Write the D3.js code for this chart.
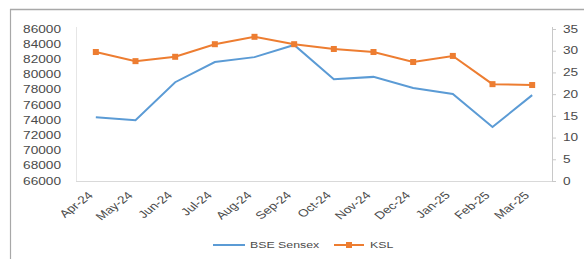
<!DOCTYPE html>
<html><head><meta charset="utf-8">
<script src="https://cdn.jsdelivr.net/npm/d3@7"></script>
<style>body{margin:0;background:#fff}svg{display:block}text{font-family:"Liberation Sans",Arial,sans-serif;fill:#4a4a4a}</style>
</head><body>
<script>
const months = ["Apr-24","May-24","Jun-24","Jul-24","Aug-24","Sep-24","Oct-24","Nov-24","Dec-24","Jan-25","Feb-25","Mar-25"];
const bseSensex = [74400,74000,79000,81650,82300,83900,79400,79700,78250,77450,73100,77300];
const ksl = [29.7,27.6,28.6,31.5,33.2,31.5,30.4,29.7,27.4,28.8,22.3,22.1];
const leftTicks = [66000,68000,70000,72000,74000,76000,78000,80000,82000,84000,86000];
const rightTicks = [0,5,10,15,20,25,30,35];
const seriesNames = ["BSE Sensex","KSL"];

const W=584,H=259, SX=1.3, FS=10.5;
const svg=d3.select("body").append("svg").attr("width",W).attr("height",H);

// outer frame
svg.append("line").attr("x1",10).attr("x2",W).attr("y1",9.5).attr("y2",9.5).attr("stroke","#a8a8a8").attr("stroke-width",1.6);
svg.append("line").attr("x1",10.5).attr("x2",10.5).attr("y1",9).attr("y2",H).attr("stroke","#a8a8a8").attr("stroke-width",1.2);

const x=d3.scalePoint().domain(months).range([76,552]).padding(0.5);
const yL=d3.scaleLinear().domain([66000,86000]).range([181,29]);
const yR=d3.scaleLinear().domain([0,35]).range([181,29]);

// axes lines
svg.append("line").attr("x1",76).attr("x2",552).attr("y1",181.5).attr("y2",181.5).attr("stroke","#d9d9d9").attr("stroke-width",1.2);
svg.append("line").attr("x1",76.5).attr("x2",76.5).attr("y1",27).attr("y2",181).attr("stroke","#e6e6e6");
svg.append("line").attr("x1",552.5).attr("x2",552.5).attr("y1",27).attr("y2",182).attr("stroke","#c8c8c8");
svg.selectAll(".rt").data(rightTicks).join("line").attr("x1",552).attr("x2",556).attr("y1",d=>yR(d)+0.5).attr("y2",d=>yR(d)+0.5).attr("stroke","#c8c8c8");

// left tick labels
svg.selectAll(".lt").data(leftTicks).join("text")
  .attr("transform",d=>`translate(61,${yL(d)}) scale(${SX},1)`)
  .attr("text-anchor","end").attr("dy","0.35em").attr("font-size",FS).text(d=>d);
// right tick labels
svg.selectAll(".rl").data(rightTicks).join("text")
  .attr("transform",d=>`translate(563,${yR(d)}) scale(${SX},1)`)
  .attr("text-anchor","start").attr("dy","0.35em").attr("font-size",FS).text(d=>d);
// x labels
svg.selectAll(".xl").data(months).join("text")
  .attr("transform",d=>`translate(${x(d)-2},${196}) scale(${SX},1) rotate(-45)`)
  .attr("text-anchor","end").attr("font-size",FS).text(d=>d);

// lines
const lineL=d3.line().x((d,i)=>x(months[i])).y(d=>yL(d));
const lineR=d3.line().x((d,i)=>x(months[i])).y(d=>yR(d));
svg.append("path").attr("d",lineL(bseSensex)).attr("fill","none").attr("stroke","#5b9bd5").attr("stroke-width",2);
svg.append("path").attr("d",lineR(ksl)).attr("fill","none").attr("stroke","#ed7d31").attr("stroke-width",2);
svg.selectAll(".mk").data(ksl).join("rect")
  .attr("x",(d,i)=>x(months[i])-3).attr("y",d=>yR(d)-3).attr("width",6).attr("height",6).attr("fill","#ed7d31");

// legend
const ly=245;
svg.append("line").attr("x1",213).attr("x2",245).attr("y1",ly).attr("y2",ly).attr("stroke","#5b9bd5").attr("stroke-width",2);
svg.append("text").attr("transform",`translate(250,${ly}) scale(${SX},1)`).attr("dy","0.35em").attr("font-size",FS-1).text(seriesNames[0]);
svg.append("line").attr("x1",334).attr("x2",364).attr("y1",ly).attr("y2",ly).attr("stroke","#ed7d31").attr("stroke-width",2);
svg.append("rect").attr("x",346).attr("y",ly-3).attr("width",6).attr("height",6).attr("fill","#ed7d31");
svg.append("text").attr("transform",`translate(370,${ly}) scale(${SX},1)`).attr("dy","0.35em").attr("font-size",FS-1).text(seriesNames[1]);
</script>
</body></html>
